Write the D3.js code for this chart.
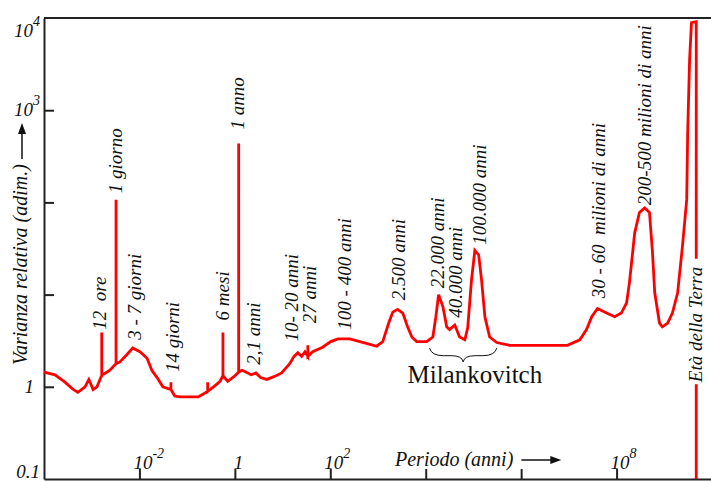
<!DOCTYPE html>
<html>
<head>
<meta charset="utf-8">
<script src="https://cdn.jsdelivr.net/npm/d3@7"></script>
<style>
body { margin: 0; background: #fff; }
svg text { font-family: "Liberation Serif", "Times New Roman", serif; font-style: italic; fill: #111; white-space: pre; }
</style>
</head>
<body>
<svg id="chart" width="711" height="481"></svg>
<script>

// spectrum: log10 of period (anni) and log10 of varianza relativa
var curveLogP = [-4.00, -3.77, -3.56, -3.41, -3.29, -3.14, -3.06, -2.97, -2.89, -2.81,
	-2.79, -2.79, -2.79, -2.74, -2.62, -2.49, -2.49, -2.49, -2.41, -2.28,
	-2.14, -1.99, -1.84, -1.74, -1.63, -1.51, -1.34, -1.34, -1.34, -1.26,
	-1.15, -0.77, -0.67, -0.57, -0.57, -0.57, -0.42, -0.31, -0.25, -0.25,
	-0.25, -0.15, -0.02, 0.08, 0.08, 0.08, 0.15, 0.23, 0.34, 0.44,
	0.54, 0.67, 0.82, 0.98, 1.15, 1.24, 1.32, 1.40, 1.47, 1.53,
	1.53, 1.53, 1.63, 1.84, 2.01, 2.16, 2.41, 2.62, 2.83, 2.97,
	3.10, 3.18, 3.23, 3.31, 3.41, 3.52, 3.62, 3.71, 3.81, 4.02,
	4.15, 4.21, 4.27, 4.36, 4.44, 4.50, 4.61, 4.71, 4.82, 4.88,
	4.96, 5.03, 5.11, 5.17, 5.24, 5.34, 5.49, 5.76, 6.97, 7.23,
	7.37, 7.48, 7.60, 7.79, 7.96, 8.10, 8.21, 8.27, 8.38, 8.48,
	8.59, 8.69, 8.75, 8.80, 8.90, 8.96, 9.07, 9.17, 9.28, 9.38,
	9.47, 9.49, 9.53, 9.57, 9.67, 9.67];
var curveLogV = [0.16, 0.13, 0.05, -0.02, -0.06, 0.00, 0.08, -0.03, 0.00, 0.10,
	0.12, 0.59, 0.13, 0.14, 0.18, 0.25, 2.03, 0.25, 0.27, 0.34,
	0.42, 0.38, 0.31, 0.18, 0.10, 0.00, -0.03, 0.05, -0.03, -0.10,
	-0.11, -0.11, -0.08, -0.05, 0.05, -0.05, 0.01, 0.06, 0.12, 0.59,
	0.12, 0.06, 0.11, 0.16, 2.64, 0.16, 0.18, 0.16, 0.13, 0.15,
	0.10, 0.08, 0.11, 0.15, 0.25, 0.33, 0.37, 0.33, 0.38, 0.33,
	0.45, 0.33, 0.38, 0.43, 0.49, 0.52, 0.52, 0.49, 0.46, 0.44,
	0.49, 0.62, 0.70, 0.81, 0.84, 0.80, 0.65, 0.54, 0.49, 0.49,
	0.54, 0.75, 1.00, 0.87, 0.65, 0.62, 0.67, 0.54, 0.51, 0.64,
	1.16, 1.48, 1.43, 1.16, 0.76, 0.54, 0.48, 0.45, 0.45, 0.51,
	0.62, 0.76, 0.85, 0.80, 0.76, 0.80, 0.91, 1.13, 1.67, 1.89,
	1.94, 1.89, 1.48, 1.02, 0.69, 0.65, 0.69, 0.80, 1.02, 1.52,
	2.03, 2.75, 3.54, 3.95, 3.96, -1.00];

var xTickValues = [1e-2, 1, 1e2, 1e4, 1e6, 1e8];
var xLabelValues = [1e-2, 1, 1e2, 1e8];
var xLabelBase = ["10", "1", "10", "10"];
var xLabelSup = ["-2", "", "2", "8"];

var yTickValues = [1e3, 1e2, 10, 1];
var yLabelValues = [1e4, 1e3, 1, 0.1];
var yLabelBase = ["10", "10", "1", "0.1"];
var yLabelSup = ["4", "3", "", ""];

// annotations: text, log10 period of its centre, log10 variance of its lower end
var annText = ["12  ore", "1 giorno", "3 - 7 giorni", "14 giorni", "6 mesi", "1 anno",
	"2,1 anni", "10- 20 anni", "27 anni", "100 - 400 anni", "2.500 anni", "22.000 anni",
	"40.000 anni", "100.000 anni", "30 - 60  milioni di anni", "200-500 milioni di anni"];
var annLogP = [-2.83, -2.49, -2.09, -1.30, -0.25, 0.06,
	0.40, 1.19, 1.57, 2.30, 3.43, 4.25,
	4.63, 5.13, 7.64, 8.59];
var annLogV = [0.62, 2.10, 0.51, 0.16, 0.72, 2.79,
	0.24, 0.49, 0.69, 0.62, 0.94, 1.07,
	0.75, 1.54, 0.96, 1.97];

var earthAge = Math.pow(10, 9.67);
var milankovitchSpan = [Math.pow(10, 4.08), Math.pow(10, 5.49)];


var svg = d3.select("#chart");

var x = d3.scaleLog().domain([1e-4, 1e10]).range([44, 712]);
var y = d3.scaleLog().domain([0.1, 1e4]).range([479, 18]);


// frame and axes
svg.append("g")
	.attr("transform", "translate(" + x.range()[0] + ",0)")
	.call(d3.axisLeft(y).tickValues(yTickValues).tickSize(-10).tickSizeOuter(0).tickFormat(""));

svg.append("g")
	.attr("transform", "translate(0," + y.range()[0] + ")")
	.call(d3.axisBottom(x).tickValues(xTickValues).tickSize(-10).tickSizeOuter(0).tickFormat(""));

svg.selectAll(".domain, .tick line")
	.attr("stroke", "#222")
	.attr("stroke-width", 2);

svg.append("line")
	.attr("x1", x.range()[0]).attr("x2", x.range()[1])
	.attr("y1", y.range()[1]).attr("y2", y.range()[1])
	.attr("stroke", "#222")
	.attr("stroke-width", 2);


// tick labels
yLabelValues.forEach(function(v, i)
{
	var yy = Math.min(Math.max(y(v) + 6, 37), 478);
	var t = svg.append("text")
		.attr("x", yLabelBase[i] === "1" ? 34 : 40)
		.attr("y", yy)
		.attr("text-anchor", "end")
		.attr("font-size", 19);
	t.append("tspan").text(yLabelBase[i]);
	if (yLabelSup[i])
		t.append("tspan").attr("dy", -11).attr("font-size", 14).text(yLabelSup[i]);
});

xLabelValues.forEach(function(v, i)
{
	var t = svg.append("text")
		.attr("x", x(v) - (xLabelSup[i] === "" ? 1 : 6))
		.attr("y", 469)
		.attr("font-size", 19);
	t.append("tspan").text(xLabelBase[i]);
	if (xLabelSup[i])
		t.append("tspan").attr("dy", -11).attr("font-size", 14).text(xLabelSup[i]);
});


// axis titles with arrows
var ytitle = svg.append("text")
	.attr("transform", "translate(27,365) rotate(-90)")
	.attr("font-size", 20)
	.text("Varianza relativa (adim.)");
var yEnd = 365 - ytitle.node().getComputedTextLength();

svg.append("line")
	.attr("x1", 22).attr("x2", 22)
	.attr("y1", yEnd - 5).attr("y2", yEnd - 30)
	.attr("stroke", "#111").attr("stroke-width", 1.5);
svg.append("path")
	.attr("d", "M" + 22 + "," + (yEnd - 41) + "l-4,11l8,0z")
	.attr("fill", "#111");

var xtitle = svg.append("text")
	.attr("x", 395)
	.attr("y", 466)
	.attr("font-size", 20)
	.text("Periodo (anni)");
var xEnd = 395 + xtitle.node().getComputedTextLength();

svg.append("line")
	.attr("x1", xEnd + 8).attr("x2", xEnd + 38)
	.attr("y1", 460).attr("y2", 460)
	.attr("stroke", "#111").attr("stroke-width", 1.5);
svg.append("path")
	.attr("d", "M" + (xEnd + 48) + ",460l-11,-4l0,8z")
	.attr("fill", "#111");


// spectrum curve
var pts = curveLogP.map(function(p, i)
{
	return [Math.pow(10, p), Math.pow(10, curveLogV[i])];
});

var line = d3.line()
	.x(function(d) { return x(d[0]); })
	.y(function(d) { return y(d[1]); });

svg.append("path")
	.datum(pts)
	.attr("d", line)
	.attr("fill", "none")
	.attr("stroke", "#ff0000")
	.attr("stroke-width", 2.8);


// peak annotations
annText.forEach(function(s, i)
{
	var px = x(Math.pow(10, annLogP[i])) + 6;
	var py = y(Math.pow(10, annLogV[i]));
	svg.append("text")
		.attr("transform", "translate(" + px + "," + py + ") rotate(-90)")
		.attr("font-size", 19)
		.text(s);
});


// age of the earth label, sitting on the line
var ex = x(earthAge);
var ey = y(Math.pow(10, 0.05));
var eg = svg.append("g");
var et = eg.append("text")
	.attr("transform", "translate(" + (ex + 6) + "," + ey + ") rotate(-90)")
	.attr("font-size", 19)
	.text("Età della Terra");
var eLen = et.node().getComputedTextLength();
eg.insert("rect", "text")
	.attr("x", ex - 8)
	.attr("y", ey - eLen - 8)
	.attr("width", 16)
	.attr("height", eLen + 10)
	.attr("fill", "#fff");


// Milankovitch brace
var bx0 = x(milankovitchSpan[0]);
var bx1 = x(milankovitchSpan[1]);
var by0 = y(Math.pow(10, 0.42));
var byc = y(Math.pow(10, 0.27));
var byb = by0 + (byc - by0) * 0.55;
var bm = (bx0 + bx1) / 2;

svg.append("path")
	.attr("d", "M" + bx0 + "," + by0 +
		"Q" + (bx0 + 2) + "," + byb + " " + (bx0 + 14) + "," + byb +
		"L" + (bm - 12) + "," + byb +
		"Q" + (bm - 1) + "," + byb + " " + bm + "," + byc +
		"Q" + (bm + 1) + "," + byb + " " + (bm + 12) + "," + byb +
		"L" + (bx1 - 14) + "," + byb +
		"Q" + (bx1 - 2) + "," + byb + " " + bx1 + "," + by0)
	.attr("fill", "none")
	.attr("stroke", "#111")
	.attr("stroke-width", 1);

svg.append("text")
	.attr("x", x(Math.pow(10, 5.03)))
	.attr("y", y(Math.pow(10, 0.04)))
	.attr("text-anchor", "middle")
	.attr("font-size", 25)
	.style("font-style", "normal")
	.text("Milankovitch");

</script>
</body>
</html>
